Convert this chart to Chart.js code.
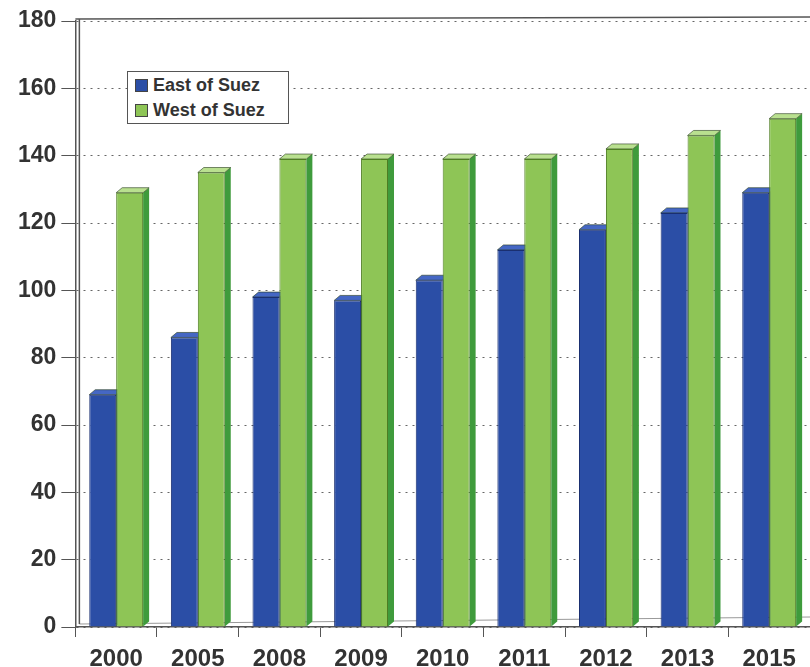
<!DOCTYPE html>
<html lang="en">
<head>
  <meta charset="UTF-8" />
  <script src="https://cdn.jsdelivr.net/npm/chart.js"></script>
  <title>East vs West of Suez</title>
  <style>
    body { margin: 0; background: #fff; }
    .wrap { position: relative; width: 810px; height: 667px; overflow: hidden; }
    .legend {
      position: absolute; left: 127px; top: 71px; width: 162px; height: 53px;
      border: 1px solid #555; background: #fff; box-sizing: border-box;
      font: bold 18px "Liberation Sans", Arial, sans-serif; color: #333;
      padding: 1px 0 0 7px;
    }
    .legend div { height: 25px; line-height: 25px; white-space: nowrap; }
    .legend span { display: inline-block; width: 13px; height: 13px; margin-right: 5px; border: 1px solid #444; box-sizing: border-box; vertical-align: -1px; }
  </style>
</head>
<body>
  <div class="wrap">
    <canvas id="barChart" width="810" height="681" style="display:block"></canvas>
    <div class="legend">
      <div><span style="background:#2b4ea6"></span>East of Suez</div>
      <div><span style="background:#8ec556"></span>West of Suez</div>
    </div>
  </div>

<script>
  var anos = ['2000', '2005', '2008', '2009', '2010', '2011', '2012', '2013', '2015']
  var eastOfSuez = [69, 86, 98, 97, 103, 112, 118, 123, 129]
  var westOfSuez = [129, 135, 139, 139, 139, 139, 142, 146, 151]
  var yTicks = [0, 20, 40, 60, 80, 100, 120, 140, 160, 180]

  // cores: frente, topo, lado
  var cores = [
    ['#2b4ea6', '#4567c4', '#1d3a88'],
    ['#8ec556', '#b9e08f', '#3f9b3c']
  ]

  // desenha topo e lateral das barras (efeito 3D) antes das frentes
  const efeito3d = {
    id: 'efeito3d',
    beforeDatasetsDraw(chart) {
      const { ctx, chartArea } = chart
      const dx = 6, dy = 5
      // piso
      ctx.save()
      ctx.strokeStyle = '#999'
      ctx.lineWidth = 1
      ctx.beginPath()
      ctx.moveTo(chartArea.left + 4, chartArea.bottom - 3)
      ctx.lineTo(chartArea.right, chartArea.bottom - 10)
      ctx.stroke()
      ctx.restore()
      chart.data.datasets.forEach((ds, i) => {
        chart.getDatasetMeta(i).data.forEach(bar => {
          const l = bar.x - bar.width / 2
          const r = bar.x + bar.width / 2
          const t = bar.y
          const b = bar.base
          ctx.fillStyle = cores[i][2]
          ctx.beginPath()
          ctx.moveTo(r, t); ctx.lineTo(r + dx, t - dy); ctx.lineTo(r + dx, b - dy); ctx.lineTo(r, b)
          ctx.closePath(); ctx.fill()
          ctx.fillStyle = cores[i][1]
          ctx.beginPath()
          ctx.moveTo(l, t); ctx.lineTo(l + dx, t - dy); ctx.lineTo(r + dx, t - dy); ctx.lineTo(r, t)
          ctx.closePath(); ctx.fill()
          ctx.strokeStyle = 'rgba(40,60,30,0.6)'
          ctx.lineWidth = 1
          ctx.stroke()
        })
      })
    },
    afterDraw(chart) {
      const { ctx, chartArea } = chart
      ctx.save()
      ctx.strokeStyle = '#555'
      ctx.lineWidth = 1.5
      ctx.beginPath()
      ctx.moveTo(chartArea.left, chartArea.top - 2)
      ctx.lineTo(chartArea.right, chartArea.top - 4)
      ctx.stroke()
      ctx.beginPath()
      ctx.moveTo(chartArea.left + 4, chartArea.top - 2)
      ctx.lineTo(chartArea.left + 4, chartArea.bottom - 3)
      ctx.stroke()
      ctx.restore()
    }
  }

  const ctx = document.getElementById('barChart')
  new Chart(ctx, {
    type: 'bar',
    data: {
      labels: anos,
      datasets: [{
        label: 'East of Suez',
        data: eastOfSuez,
        backgroundColor: cores[0][0],
        borderColor: '#1a2f70',
        borderWidth: 1
      }, {
        label: 'West of Suez',
        data: westOfSuez,
        backgroundColor: cores[1][0],
        borderColor: '#4e7d22',
        borderWidth: 1
      }]
    },
    plugins: [efeito3d],
    options: {
      responsive: false,
      animation: false,
      layout: { padding: { left: 13, top: 21, right: 0, bottom: 0 } },
      datasets: { bar: { categoryPercentage: 0.66, barPercentage: 1.0 } },
      plugins: { legend: { display: false }, tooltip: { enabled: false } },
      scales: {
        x: {
          grid: { display: true, offset: true, drawOnChartArea: false, tickLength: 10, tickColor: '#555' },
          border: { color: '#555', width: 1.5 },
          ticks: {
            padding: 10,
            color: '#333',
            font: { family: '"Liberation Sans", Arial, sans-serif', size: 24, weight: 'bold', lineHeight: 1.0 }
          }
        },
        y: {
          min: 0,
          max: 180,
          afterBuildTicks: axis => { axis.ticks = yTicks.map(v => ({ value: v })) },
          grid: { color: '#666', tickLength: 14, tickColor: '#555' },
          border: { color: '#555', width: 1.5, dash: [2, 5] },
          ticks: {
            padding: 5,
            color: '#333',
            font: { family: '"Liberation Sans", Arial, sans-serif', size: 23, weight: 'bold' }
          }
        }
      }
    }
  })
</script>
</body>
</html>
